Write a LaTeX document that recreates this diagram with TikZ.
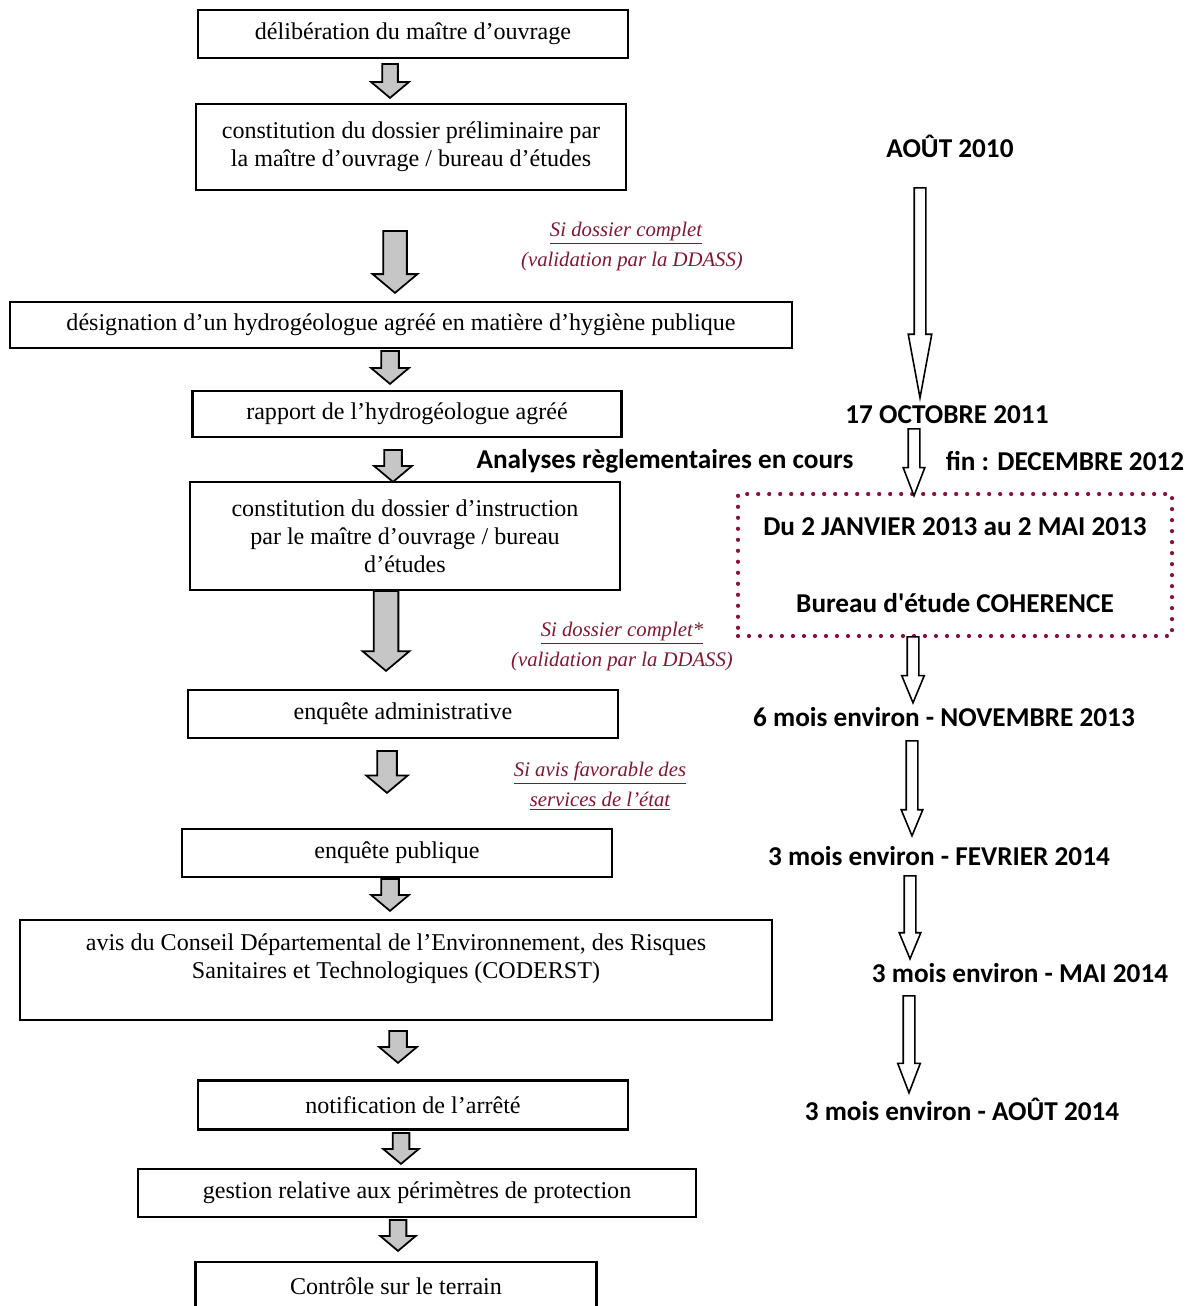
\documentclass[tikz,border=0pt]{standalone}
\usepackage{fontspec}
\setmainfont{Liberation Serif}
\newfontfamily\datefont{Carlito}
\usetikzlibrary{shapes.arrows}
\definecolor{labelred}{RGB}{125,25,50}
\definecolor{dotred}{RGB}{135,20,55}

\tikzset{
  box/.style={draw, line width=1.3pt, align=center, inner sep=2pt,
    font=\fontsize{13.7}{15.9}\selectfont},
  wh/.style 2 args={minimum width=#1*0.02cm, minimum height=#2*0.02cm},
  cond/.style={align=center, inner sep=0pt, text=labelred,
    font=\itshape\fontsize{11.8}{16.5}\selectfont},
  date/.style={inner sep=0pt, align=center,
    font=\datefont\bfseries\fontsize{15.5}{18}\selectfont},
  fatarrow/.style n args={3}{single arrow, draw, line width=1pt, fill=gray!45,
    rotate=-90, anchor=tail, inner xsep=0pt, inner ysep=#3*0.01cm,
    single arrow tip angle=100,
    minimum height=#1*0.02cm, minimum width=#2*0.02cm,
    single arrow head extend=(#2-#3)*0.01cm},
  thinarrow/.style n args={3}{single arrow, draw, line width=0.9pt, fill=white,
    rotate=-90, anchor=tail, inner xsep=0pt, inner ysep=0.1cm,
    minimum height=#1*0.02cm, minimum width=#2*0.02cm,
    single arrow head extend=(#2-10)*0.01cm, single arrow tip angle=#3},
}

\begin{document}
\begin{tikzpicture}[x=0.02cm, y=-0.02cm]
\clip (0,0) rectangle (1200,1306);
\fill[white] (0,0) rectangle (1200,1306);

% left column: the procedure
\node[box, wh={430}{48}] (deliberation) at (413,34) {délibération du maître d'ouvrage};
\node[box, wh={430}{86}] (preliminaire) at (411,147)
  {constitution du dossier préliminaire par\\la maître d'ouvrage / bureau d'études};
\node[box, wh={782}{46}] (designation) at (401,325)
  {désignation d'un hydrogéologue agréé en matière d'hygiène publique};
\node[box, wh={429}{46}] (rapport) at (407,414) {rapport de l'hydrogéologue agréé};
\node[box, wh={430}{108}] (instruction) at (405,536)
  {constitution du dossier d'instruction\\par le maître d'ouvrage / bureau\\d'études};
\node[box, wh={430}{48}] (administrative) at (403,714) {enquête administrative};
\node[box, wh={430}{48}] (publique) at (397,853) {enquête publique};
\node[box, wh={752}{100}] (coderst) at (396,970)
  {avis du Conseil Départemental de l'Environnement, des Risques\\Sanitaires et Technologiques (CODERST)\\ ~};
\node[box, wh={430}{49}] (notification) at (413,1105) {notification de l'arrêté};
\node[box, wh={558}{48}] (gestion) at (417,1193) {gestion relative aux périmètres de protection};
\node[box, wh={401}{48}] (controle) at (396,1286) {Contrôle sur le terrain};

% fat arrows between the steps
\node[fatarrow={34}{36}{14}] (f1) at (390,63) {};
\node[fatarrow={62}{43}{22}] (f2) at (395,230) {};
\node[fatarrow={33}{36}{16}] (f3) at (390,350) {};
\node[fatarrow={32}{36}{16}] (f4) at (393,449) {};
\node[fatarrow={80}{45}{23}] (f5) at (386,590) {};
\node[fatarrow={42}{40}{18}] (f6) at (387,750) {};
\node[fatarrow={32}{36}{16}] (f7) at (390,878) {};
\node[fatarrow={32}{36}{16}] (f8) at (398,1030) {};
\node[fatarrow={31}{34}{15}] (f9) at (401,1132) {};
\node[fatarrow={31}{34}{15}] (f10) at (398,1219) {};

% conditions
\node[cond] (cond1a) at (626,233) {\underline{Si dossier complet}};
\node[cond] (cond1b) at (632,262) {(validation par la DDASS)};
\node[cond] (cond2a) at (622,633) {\underline{Si dossier complet*}};
\node[cond] (cond2b) at (622,662) {(validation par la DDASS)};
\node[cond] (cond3a) at (600,773) {\underline{Si avis favorable des}};
\node[cond] (cond3b) at (600,801) {\underline{services de l'état}};

% right column: the dates
\node[date] (d2010) at (950,146) {AOÛT 2010};
\node[date] (d2011) at (947,415) {17 OCTOBRE 2011};
\node[date] (analyses) at (665,461) {Analyses règlementaires en cours};
\node[date] (fin) at (1065,461) {fin : DECEMBRE 2012};
\node[date, draw=dotred, line width=2.4pt, line cap=round,
  dash pattern=on 0pt off 0.22cm, wh={434}{142}] (periode) at (955,565)
  {Du 2 JANVIER 2013 au 2 MAI 2013\\[26pt]Bureau d'étude COHERENCE};
\node[date] (nov2013) at (944,717) {6 mois environ - NOVEMBRE 2013};
\node[date] (fev2014) at (939,856) {3 mois environ - FEVRIER 2014};
\node[date] (mai2014) at (1020,973) {3 mois environ - MAI 2014};
\node[date] (aout2014) at (962,1109) {3 mois environ - AOÛT 2014};

% thin arrows
\node[thinarrow={210}{22}{21}] (t1) at (920,187) {};
\node[thinarrow={67}{20}{42}] (t2) at (914,428) {};
\node[thinarrow={66}{21}{45}] (t3) at (913,636) {};
\node[thinarrow={95}{20}{45}] (t4) at (912,740) {};
\node[thinarrow={83}{20}{45}] (t5) at (910,875) {};
\node[thinarrow={97}{21}{42}] (t6) at (909,995) {};
\end{tikzpicture}
\end{document}
